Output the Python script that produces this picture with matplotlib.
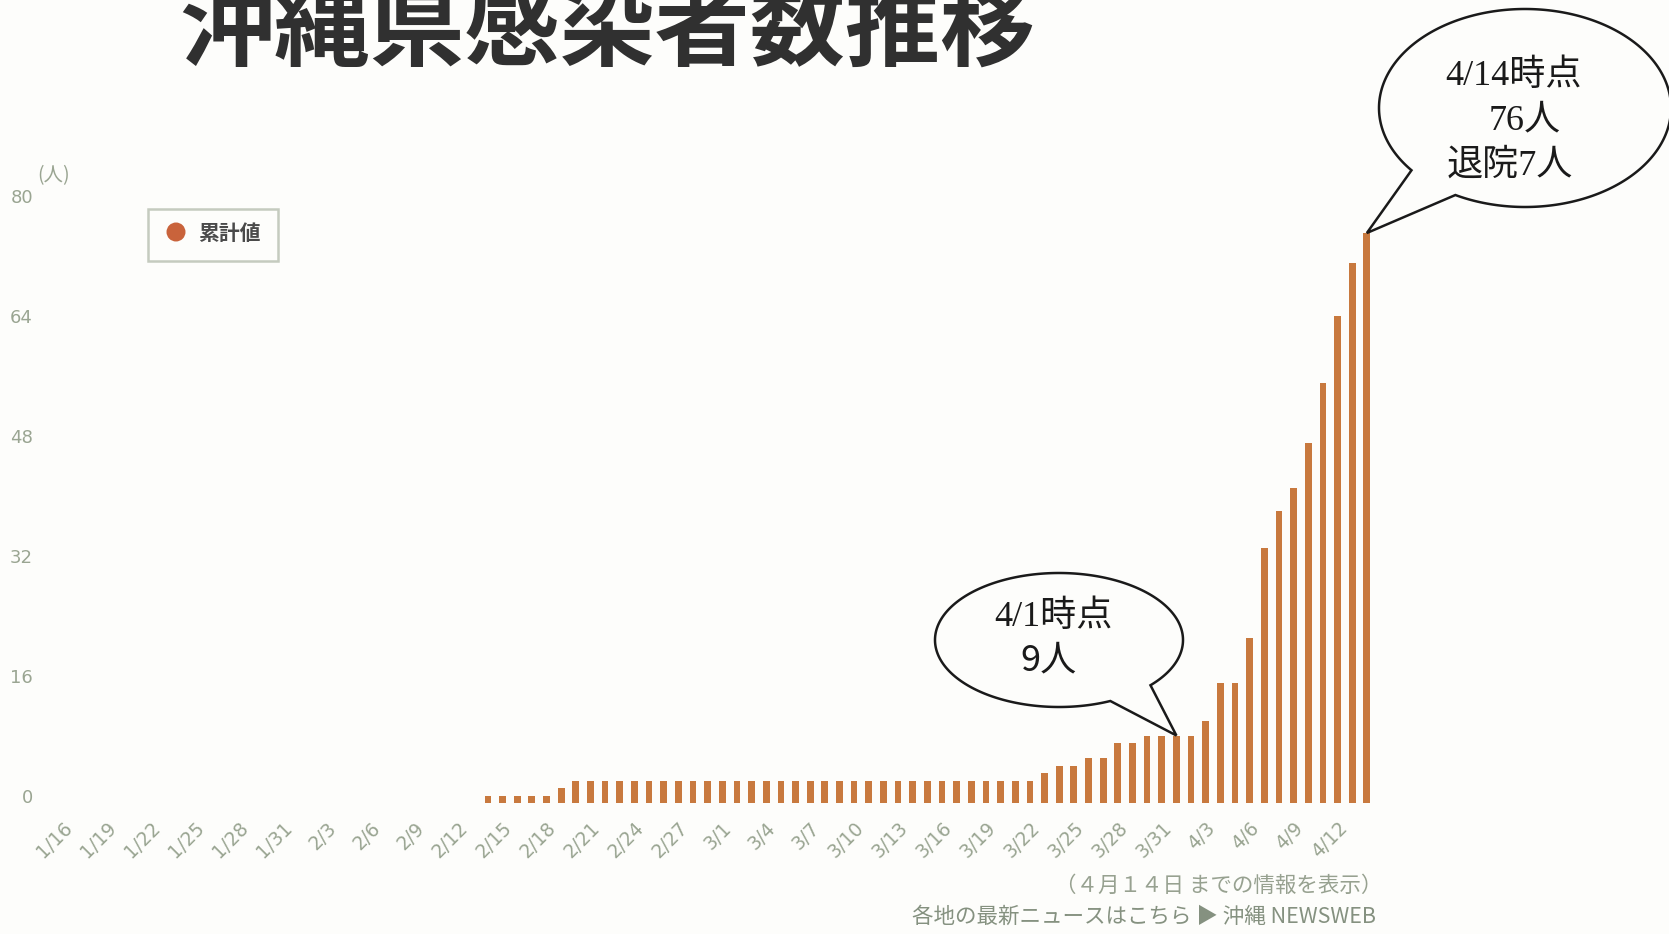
import numpy as np
import matplotlib
matplotlib.use("Agg")
import matplotlib.pyplot as plt
from matplotlib.patches import Polygon, FancyBboxPatch, Circle
from matplotlib.transforms import IdentityTransform, ScaledTranslation

# ---------------- data ----------------
tick_labels = ['1/16', '1/19', '1/22', '1/25', '1/28', '1/31', '2/3', '2/6', '2/9',
               '2/12', '2/15', '2/18', '2/21', '2/24', '2/27', '3/1', '3/4', '3/7',
               '3/10', '3/13', '3/16', '3/19', '3/22', '3/25', '3/28', '3/31', '4/3',
               '4/6', '4/9', '4/12']
# cumulative cases, one value per day from 1/16 to 4/14
jan_values = [0, 0, 0, 0, 0, 0, 0, 0, 0, 0, 0, 0, 0, 0, 0, 0]           # 1/16-1/31
feb_values = [0, 0, 0, 0, 0, 0, 0, 0, 0, 0, 0, 0, 0,                    # 2/1-2/13
              1, 1, 1, 1, 1, 2,                                          # 2/14-2/19
              3, 3, 3, 3, 3, 3, 3, 3, 3, 3]                              # 2/20-2/29
mar_values = [3, 3, 3, 3, 3, 3, 3, 3, 3, 3, 3, 3, 3, 3, 3, 3, 3, 3, 3, 3, 3, 3,  # 3/1-3/22
              4, 5, 5, 6, 6, 8, 8, 9, 9]                                 # 3/23-3/31
apr_values = [9, 9, 11, 16, 16, 22, 34, 39, 42, 48, 56, 65, 72, 76]      # 4/1-4/14
values = jan_values + feb_values + mar_values + apr_values
legend_label = '累計値'
title = '沖縄県感染者数推移'
y_ticks = [0, 16, 32, 48, 64, 80]
note_0401 = ['4/1時点', '9人']
note_0414 = ['4/14時点', '76人', '退院7人']
idx_0401 = 76
idx_0414 = 89

# ---------------- style ----------------
W, H = 1669, 934
BG = '#fdfdfb'
BAR = '#c8793e'
DOT = '#c9633b'
TICK = '#9aa592'
CJK = ['Noto Sans CJK JP', 'DejaVu Sans']
SERIF = ['Liberation Serif', 'Noto Sans CJK JP']

fig = plt.figure(figsize=(W / 100, H / 100), dpi=100)
fig.patch.set_facecolor(BG)

def fx(x):
    return x / W

def fy(y):
    return 1 - y / H

x_left, x_right = 48.4, 1381.5
y_bottom, y_top = 803, 203
ax = fig.add_axes([fx(x_left), fy(y_bottom), (x_right - x_left) / W, (y_bottom - y_top) / H])
ax.set_facecolor('none')
x = np.arange(len(values))
ax.bar(x, values, width=0.46, color=BAR, zorder=2)
ax.set_xlim(-1, 90)
ax.set_ylim(0, 80)
for s in ax.spines.values():
    s.set_visible(False)
ax.set_yticks(y_ticks)
ax.set_yticklabels([str(v) for v in y_ticks])
ax.set_xticks(np.arange(0, len(values), 3)[:len(tick_labels)])
ax.set_xticklabels(tick_labels, rotation=45, ha='right', rotation_mode='anchor')
ax.tick_params(axis='both', length=0, colors=TICK)
ax.tick_params(axis='y', pad=11, labelsize=13)
ax.tick_params(axis='x', pad=11, labelsize=13.5)
shift = ScaledTranslation(0, 7 / 100, fig.dpi_scale_trans)
for lab in ax.get_yticklabels():
    lab.set_transform(lab.get_transform() + shift)

# unit label
fig.text(fx(37), fy(176), '(人)', family=CJK, fontsize=14, color=TICK, ha='left', va='center')

# title
fig.text(fx(179), fy(59), title, family=CJK, fontsize=68.5, fontweight='bold',
         color='#303030', ha='left', va='baseline')

# legend box
ident = IdentityTransform()
box = FancyBboxPatch((148, H - 261), 130, 52, boxstyle='square,pad=0',
                     transform=ident, facecolor=BG, edgecolor='#c5cbbf', lw=1.8)
fig.patches.append(box)
leg_dot = Circle((176, H - 232), 9.5, transform=ident, facecolor=DOT, edgecolor='none')
fig.patches.append(leg_dot)
fig.text(fx(198), fy(233), legend_label, family=CJK, fontsize=15, fontweight='bold',
         color='#4a4a4a', ha='left', va='center')

# speech bubbles
fig.canvas.draw()

def bubble(cx, cy, a, b, p1, p2, tip_data):
    ts = []
    for (px, py) in (p1, p2):
        ts.append(np.arctan2((py - cy) / b, (px - cx) / a))
    tA, tB = sorted(ts)
    t = np.linspace(tB, tA + 2 * np.pi, 400)
    xs = cx + a * np.cos(t)
    ys = cy + b * np.sin(t)
    tip = ax.transData.transform(tip_data)
    pts = np.column_stack([xs, H - ys])
    pts = np.vstack([pts, tip])
    poly = Polygon(pts, closed=True, transform=ident, facecolor=BG,
                   edgecolor='#1a1a1a', lw=1.8, zorder=5, joinstyle='miter')
    fig.patches.append(poly)

bubble(1525, 108, 146, 99, (1412, 170), (1457, 193), (idx_0414, values[idx_0414]))
bubble(1059, 640, 124, 67, (1150, 685), (1112, 703), (idx_0401, values[idx_0401]))

for txt, (px, py) in zip(note_0414, [(1513, 76), (1525, 121), (1510, 166)]):
    fig.text(fx(px), fy(py), txt, family=SERIF, fontsize=26, color='#1a1a1a',
             ha='center', va='center', zorder=6)
fig.text(fx(1053), fy(617), note_0401[0], family=SERIF, fontsize=26, color='#1a1a1a',
         ha='center', va='center', zorder=6)
fig.text(fx(1048), fy(660), note_0401[1], family=CJK, fontsize=26, color='#1a1a1a',
         ha='center', va='center', zorder=6)

# footer
fig.text(fx(1382), fy(886), '（４月１４日 までの情報を表示）', family=CJK, fontsize=15.5,
         color='#97a190', ha='right', va='center')
fig.text(fx(1376), fy(917), '各地の最新ニュースはこちら ▶ 沖縄 NEWSWEB', family=CJK,
         fontsize=15.5, color='#859180', ha='right', va='center')

fig.savefig('out.png', dpi=100, facecolor=BG)
